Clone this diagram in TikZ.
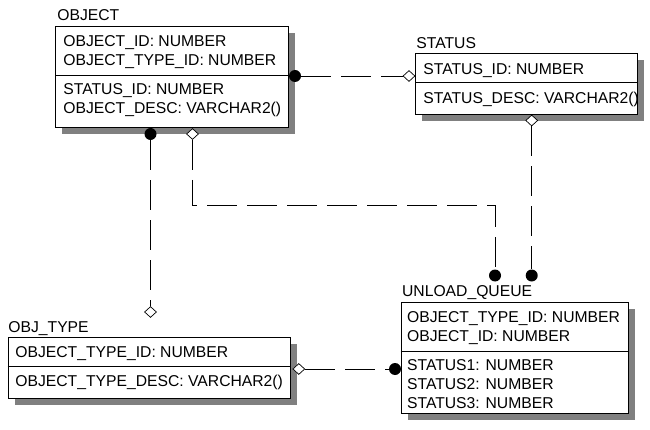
\documentclass[tikz,border=0pt]{standalone}
\usepackage{fontspec}
\setmainfont{Liberation Sans}
\usetikzlibrary{shapes.geometric,shadows}
\begin{document}
\begin{tikzpicture}[x=1pt,y=-1pt,line width=0.8pt,
  every node/.style={font=\fontsize{15.7}{18}\selectfont, inner sep=0pt},
  tbl/.style={draw, fill=white, anchor=north west,
    drop shadow={shadow xshift=7pt, shadow yshift=-7pt, opacity=1, fill=black!50}},
  txt/.style={anchor=base west},
  fk/.style={circle, fill=black, minimum size=12pt, inner sep=0pt},
  nul/.style={diamond, draw, fill=white, minimum width=12pt, minimum height=11pt, inner sep=0pt, line width=0.7pt},
  rel/.style={draw, dash pattern=on 30pt off 10pt}]
\useasboundingbox (0,0) rectangle (650,430);

% tables
\node[tbl, minimum width=233pt, minimum height=101pt] (object) at (55,26) {};
\node[tbl, minimum width=222pt, minimum height=61pt] (status) at (415,53) {};
\node[tbl, minimum width=282.5pt, minimum height=61pt] (objtype) at (7.5,337) {};
\node[tbl, minimum width=227.5pt, minimum height=111pt] (unload) at (400.5,302) {};

% dividers
\draw (object.west |- 0,75) -- (object.east |- 0,75);
\draw (status.west |- 0,82) -- (status.east |- 0,82);
\draw (objtype.west |- 0,366) -- (objtype.east |- 0,366);
\draw (unload.west |- 0,351) -- (unload.east |- 0,351);

% titles
\node[txt] (lobj) at (57,20.7) {OBJECT};
\node[txt] (lst) at (416,48.3) {STATUS};
\node[txt] (lot) at (8,332.3) {OBJ\_TYPE};
\node[txt] (luq) at (401.7,296.7) {UNLOAD\_QUEUE};

% attributes
\node[txt] (o1) at (63,46.5) {OBJECT\_ID: NUMBER};
\node[txt] (o2) at (63,65.8) {OBJECT\_TYPE\_ID: NUMBER};
\node[txt] (o3) at (63,94.5) {STATUS\_ID: NUMBER};
\node[txt] (o4) at (63,113.3) {OBJECT\_DESC: VARCHAR2()};

\node[txt] (s1) at (423,74.3) {STATUS\_ID: NUMBER};
\node[txt] (s2) at (423,104) {STATUS\_DESC: VARCHAR2()};

\node[txt] (t1) at (15,357.3) {OBJECT\_TYPE\_ID: NUMBER};
\node[txt] (t2) at (15,386) {OBJECT\_TYPE\_DESC: VARCHAR2()};

\node[txt] (u1) at (406.7,322.7) {OBJECT\_TYPE\_ID: NUMBER};
\node[txt] (u2) at (406.7,341.7) {OBJECT\_ID: NUMBER};
\node[txt] (u3) at (406.7,370.7) {STATUS1: NUMBER};
\node[txt] (u4) at (406.7,389.3) {STATUS2: NUMBER};
\node[txt] (u5) at (406.7,408) {STATUS3: NUMBER};

% relationship ends
\node[fk] (c1) at (295,76) {};
\node[nul] (d1) at (409,76) {};
\node[fk] (c2) at (150.5,134) {};
\node[nul] (d2) at (192.5,134) {};
\node[nul] (d3) at (531.7,120.5) {};
\node[nul] (d4) at (150.5,312) {};
\node[fk] (c3) at (495,275.5) {};
\node[fk] (c4) at (531.7,275.5) {};
\node[nul] (d5) at (298.8,369) {};
\node[fk] (c5) at (395,369) {};
\coordinate (bend) at (192.5,205);

% connectors
\draw[rel] (c1) -- (d1);
\draw[rel] (c2) -- (d4);
\draw[rel] (d2) -- (bend) -| (c3);
\draw[rel] (d3) -- (c4);
\draw[rel] (d5) -- (c5);
\end{tikzpicture}
\end{document}
